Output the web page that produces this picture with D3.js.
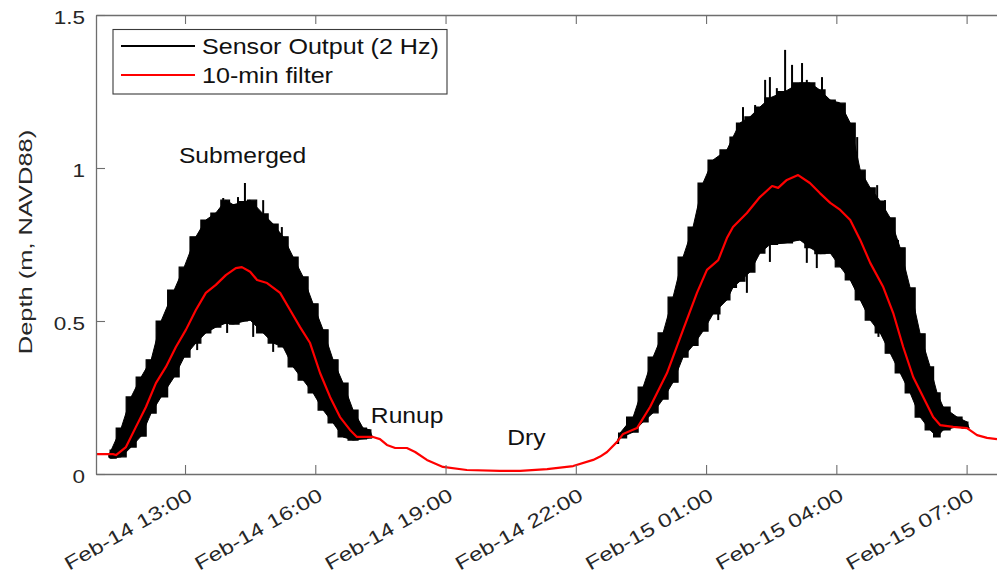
<!DOCTYPE html>
<html><head><meta charset="utf-8">
<script src="https://cdn.jsdelivr.net/npm/d3@7"></script>
<style>html,body{margin:0;padding:0;background:#fff;} svg{display:block;}</style>
</head><body><svg id="chart" width="997" height="578"></svg>
<script>
// Hours since Feb-14 00:00; depth in m (NAVD88)
const filterHours = [10.95,11.34,11.41,11.64,11.87,12.10,12.33,12.56,12.79,13.02,13.25,13.48,13.71,13.94,14.17,14.31,14.50,14.66,14.89,15.19,15.42,15.65,15.88,16.11,16.34,16.57,16.80,16.96,17.19,17.33,17.49,17.65,17.84,18.11,18.30,18.57,18.94,19.49,20.25,20.72,21.34,21.94,22.40,22.56,22.72,22.95,23.09,23.41,23.71,24.10,24.47,24.79,25.02,25.28,25.48,25.62,25.94,26.24,26.52,26.66,26.86,27.12,27.39,27.62,27.86,28.09,28.32,28.55,28.78,29.08,29.31,29.54,29.77,30.00,30.23,30.39,30.69,31.01,31.24,31.47,31.70];
const filterDepth = [0.065,0.065,0.062,0.088,0.154,0.219,0.297,0.350,0.415,0.471,0.536,0.592,0.618,0.650,0.673,0.676,0.661,0.634,0.624,0.592,0.536,0.480,0.428,0.330,0.252,0.186,0.144,0.121,0.121,0.121,0.114,0.095,0.085,0.085,0.072,0.046,0.023,0.013,0.010,0.010,0.016,0.026,0.046,0.057,0.072,0.105,0.131,0.150,0.219,0.330,0.471,0.592,0.667,0.699,0.771,0.807,0.853,0.905,0.941,0.935,0.961,0.977,0.951,0.918,0.886,0.863,0.830,0.765,0.690,0.611,0.526,0.415,0.317,0.252,0.186,0.160,0.154,0.150,0.127,0.118,0.114];

// Sensor output envelope (max / min of 2 Hz record), first high tide
const sensorHours1 = [11.25,11.30,11.53,11.76,11.99,12.22,12.45,12.75,12.98,13.25,13.48,13.71,13.94,14.11,14.38,14.50,14.80,15.03,15.26,15.49,15.72,15.95,16.18,16.41,16.64,16.87,17.10,17.26,17.30];
const sensorHigh1  = [0.062,0.078,0.150,0.252,0.317,0.373,0.500,0.601,0.676,0.775,0.830,0.853,0.895,0.880,0.890,0.895,0.850,0.817,0.775,0.709,0.644,0.556,0.471,0.373,0.297,0.209,0.150,0.144,0.125];
const sensorLow1   = [0.055,0.052,0.056,0.088,0.124,0.199,0.252,0.317,0.382,0.428,0.461,0.480,0.493,0.490,0.500,0.503,0.461,0.428,0.415,0.350,0.307,0.265,0.209,0.167,0.121,0.111,0.115,0.118,0.118];
// second high tide
const sensorHours2 = [22.95,23.02,23.32,23.55,23.78,24.01,24.24,24.47,24.70,24.93,25.16,25.48,25.62,25.78,26.01,26.24,26.47,26.82,27.16,27.39,27.62,27.86,28.09,28.32,28.55,28.78,29.01,29.24,29.47,29.70,29.93,30.16,30.32,30.46,30.78,31.01,31.05];
const sensorHigh2  = [0.105,0.134,0.186,0.284,0.382,0.461,0.578,0.709,0.807,0.951,1.026,1.059,1.101,1.147,1.167,1.199,1.229,1.250,1.278,1.278,1.255,1.222,1.212,1.147,0.993,0.935,0.892,0.837,0.739,0.608,0.458,0.350,0.265,0.219,0.186,0.170,0.152];
const sensorLow2   = [0.100,0.118,0.137,0.170,0.200,0.245,0.300,0.382,0.420,0.467,0.523,0.569,0.610,0.630,0.660,0.722,0.750,0.755,0.765,0.740,0.720,0.722,0.677,0.634,0.569,0.503,0.461,0.395,0.330,0.265,0.186,0.144,0.121,0.144,0.154,0.150,0.148];

// individual wave spikes that stand out of the band
const spikeHours = [14.38,14.22,14.80,13.88,15.23,13.97,14.57,15.03,13.28,26.82,27.21,26.47,27.67,26.36,27.32,26.98,26.63,25.85,26.13,28.04,28.48,28.94,29.12,29.42,25.94,27.32,27.55,25.28,26.47,28.97];
const spikeDepth = [0.951,0.905,0.895,0.902,0.807,0.461,0.448,0.399,0.405,1.386,1.343,1.297,1.297,1.288,1.288,1.337,1.261,1.199,1.206,1.216,1.101,0.944,0.895,0.765,0.592,0.690,0.673,0.503,0.693,0.448];

const yTickValues = [0, 0.5, 1, 1.5];
const yTickLabels = ["0", "0.5", "1", "1.5"];
const xTickHours = [13, 16, 19, 22, 25, 28, 31];
const xTickLabels = ["Feb-14 13:00","Feb-14 16:00","Feb-14 19:00","Feb-14 22:00","Feb-15 01:00","Feb-15 04:00","Feb-15 07:00"];
const legendLabels = ["Sensor Output (2 Hz)", "10-min filter"];
const annotationText = ["Submerged", "Runup", "Dry"];
const annotationHours = [12.86, 17.28, 20.42];
const annotationDepth = [1.016, 0.167, 0.095];
const yTitle = "Depth (m, NAVD88)";

const svg = d3.select("#chart");
const FONT = "'Liberation Sans', Arial, Helvetica, sans-serif";
const TXT = "#262626";
const x = d3.scaleLinear().domain([10.95, 31.70]).range([96, 997]);
const y = d3.scaleLinear().domain([0, 1.5]).range([474, 15]);

svg.append("defs").append("clipPath").attr("id","clip")
  .append("rect").attr("x",96).attr("y",15).attr("width",901).attr("height",459);
const plot = svg.append("g").attr("clip-path","url(#clip)");

const area = d3.area().curve(d3.curveStep).x(d=>x(d[0])).y0(d=>y(d[2])).y1(d=>y(d[1]));
const areaSmooth = d3.area().x(d=>x(d[0])).y0(d=>y(d[2])).y1(d=>y(d[1]));
[[sensorHours1,sensorHigh1,sensorLow1],[sensorHours2,sensorHigh2,sensorLow2]].forEach(([h,hi,lo])=>{
  const pts = h.map((t,i)=>[t,hi[i],lo[i]]);
  plot.append("path").attr("d",areaSmooth(pts)).attr("fill","#000").attr("stroke","#000").attr("stroke-width",1);
  plot.append("path").attr("d",area(pts)).attr("fill","#000").attr("stroke","#000").attr("stroke-width",1.2).attr("stroke-linejoin","miter");
});
const filterAt = d3.scaleLinear().domain(filterHours).range(filterDepth);
plot.selectAll("line.spike").data(spikeHours).join("line").attr("class","spike")
  .attr("x1",(t)=>x(t)).attr("x2",(t)=>x(t))
  .attr("y1",(t,i)=>y(spikeDepth[i])).attr("y2",(t)=>y(filterAt(t)))
  .attr("stroke","#000").attr("stroke-width",2);

const line = d3.line().x(d=>x(d[0])).y(d=>y(d[1]));
plot.append("path").attr("d",line(filterHours.map((t,i)=>[t,filterDepth[i]])))
  .attr("fill","none").attr("stroke","#ff0000").attr("stroke-width",2.2).attr("stroke-linejoin","round");

// axes
const AX = "#6e6e6e";
function styleAxis(g){
  g.select(".domain").attr("stroke",AX).attr("stroke-width",1.3);
  g.selectAll(".tick line").attr("stroke",AX).attr("stroke-width",1.1);
}
const xb = svg.append("g").attr("transform","translate(0,474)")
  .call(d3.axisBottom(x).tickValues(xTickHours).tickFormat((d,i)=>xTickLabels[i]).tickSize(-9).tickSizeOuter(0));
styleAxis(xb);
xb.selectAll(".tick text").attr("x",null).attr("y",null).attr("dy",null)
  .attr("text-anchor","end").attr("fill",TXT).style("font-family",FONT).style("font-size","19px")
  .attr("transform","translate(8,25) rotate(-30) scale(1.27,1)");
const xt = svg.append("g").attr("transform","translate(0,15)")
  .call(d3.axisTop(x).tickValues(xTickHours).tickFormat("").tickSize(-9).tickSizeOuter(0));
styleAxis(xt);
const yl = svg.append("g").attr("transform","translate(96,0)")
  .call(d3.axisLeft(y).tickValues(yTickValues).tickFormat((d,i)=>yTickLabels[i]).tickSize(-9).tickSizeOuter(0));
styleAxis(yl);
yl.selectAll(".tick text").attr("x",null).attr("dy","0.35em")
  .attr("text-anchor","end").attr("fill",TXT).style("font-family",FONT).style("font-size","18px")
  .attr("transform","translate(-11,2) scale(1.25,1)");

svg.append("text").text(yTitle).attr("text-anchor","middle").attr("fill",TXT)
  .style("font-family",FONT).style("font-size","19px")
  .attr("transform","translate(32,242) rotate(-90) scale(1.34,1)");

// annotations
annotationText.forEach((s,i)=>{
  svg.append("text").text(s).attr("fill","#111").style("font-family",FONT).style("font-size","22px")
    .attr("transform",`translate(${x(annotationHours[i])},${y(annotationDepth[i])}) scale(1.12,1)`);
});

// legend
const lg = svg.append("g");
lg.append("rect").attr("x",113).attr("y",29.5).attr("width",334).attr("height",64.5)
  .attr("fill","#fff").attr("stroke","#3a3a3a").attr("stroke-width",1.1);
const legendColors = ["#000","#ff0000"];
legendLabels.forEach((s,i)=>{
  const yy = 46 + i*29;
  lg.append("line").attr("x1",121).attr("x2",195).attr("y1",yy).attr("y2",yy)
    .attr("stroke",legendColors[i]).attr("stroke-width",2.2);
  lg.append("text").text(s).attr("fill","#111").style("font-family",FONT).style("font-size","22px")
    .attr("transform",`translate(202,${yy+8}) scale(1.14,1)`);
});
</script></body></html>
